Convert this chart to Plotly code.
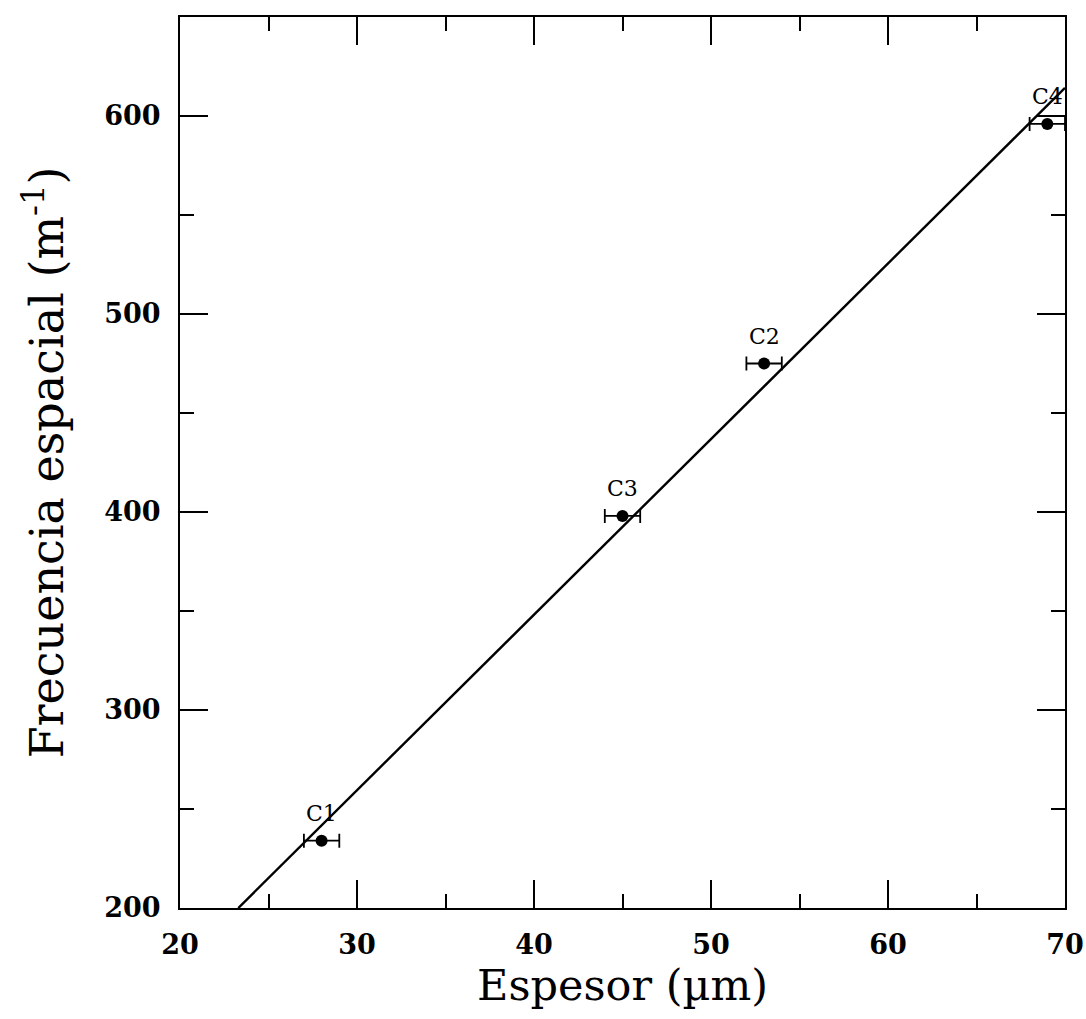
import numpy as np
import plotly.graph_objects as go

# Measured samples
labels = ["C1", "C3", "C2", "C4"]
espesor = [28, 45, 53, 69]          # µm
espesor_err = [1, 1, 1, 1]          # µm
frecuencia = [234, 398, 475, 596]   # m^-1

x_ticks = [20, 30, 40, 50, 60, 70]
y_ticks = [200, 300, 400, 500, 600]

# Least-squares linear fit
slope, intercept = np.polyfit(espesor, frecuencia, 1)
x_fit = np.array([(200 - intercept) / slope, 70])
y_fit = slope * x_fit + intercept

serif = "DejaVu Serif"

fig = go.Figure()

fig.add_trace(go.Scatter(
    x=x_fit, y=y_fit, mode="lines",
    line=dict(color="black", width=2.4),
    showlegend=False, hoverinfo="skip",
))

fig.add_trace(go.Scatter(
    x=espesor, y=frecuencia, mode="markers",
    marker=dict(color="black", size=12, symbol="circle"),
    error_x=dict(type="data", array=espesor_err, visible=True,
                 color="black", thickness=1.8, width=7),
    showlegend=False, cliponaxis=False,
))

for name, xv, yv in zip(labels, espesor, frecuencia):
    fig.add_annotation(
        x=xv, y=yv, text=name, showarrow=False,
        yshift=27, font=dict(family=serif, size=22, color="black"),
    )

axis_common = dict(
    showgrid=False, zeroline=False, automargin=False,
    showline=True, linecolor="black", linewidth=2,
    mirror="allticks",
    ticks="inside", ticklen=28, tickwidth=1.8, tickcolor="black",
    tickfont=dict(family=serif, size=27, color="black", weight="bold"),
)

fig.update_xaxes(
    range=[20, 70], tickvals=x_ticks, ticklabelstandoff=12,
    minor=dict(dtick=5, ticks="inside", ticklen=14, tickwidth=1.8, tickcolor="black"),
    title=dict(text="Espesor (µm)", font=dict(family=serif, size=43, color="black"), standoff=4),
    **axis_common,
)
fig.update_yaxes(
    range=[200, 650], tickvals=y_ticks, ticklabelstandoff=12,
    minor=dict(dtick=50, ticks="inside", ticklen=14, tickwidth=1.8, tickcolor="black"),
    title=dict(text="Frecuencia espacial (m<sup>-1</sup>)",
               font=dict(family=serif, size=46, color="black"), standoff=26),
    **axis_common,
)

fig.update_layout(
    width=1086, height=1019,
    margin=dict(l=180, r=21, t=17, b=111),
    paper_bgcolor="white", plot_bgcolor="white",
)

fig.write_html("out.html")
